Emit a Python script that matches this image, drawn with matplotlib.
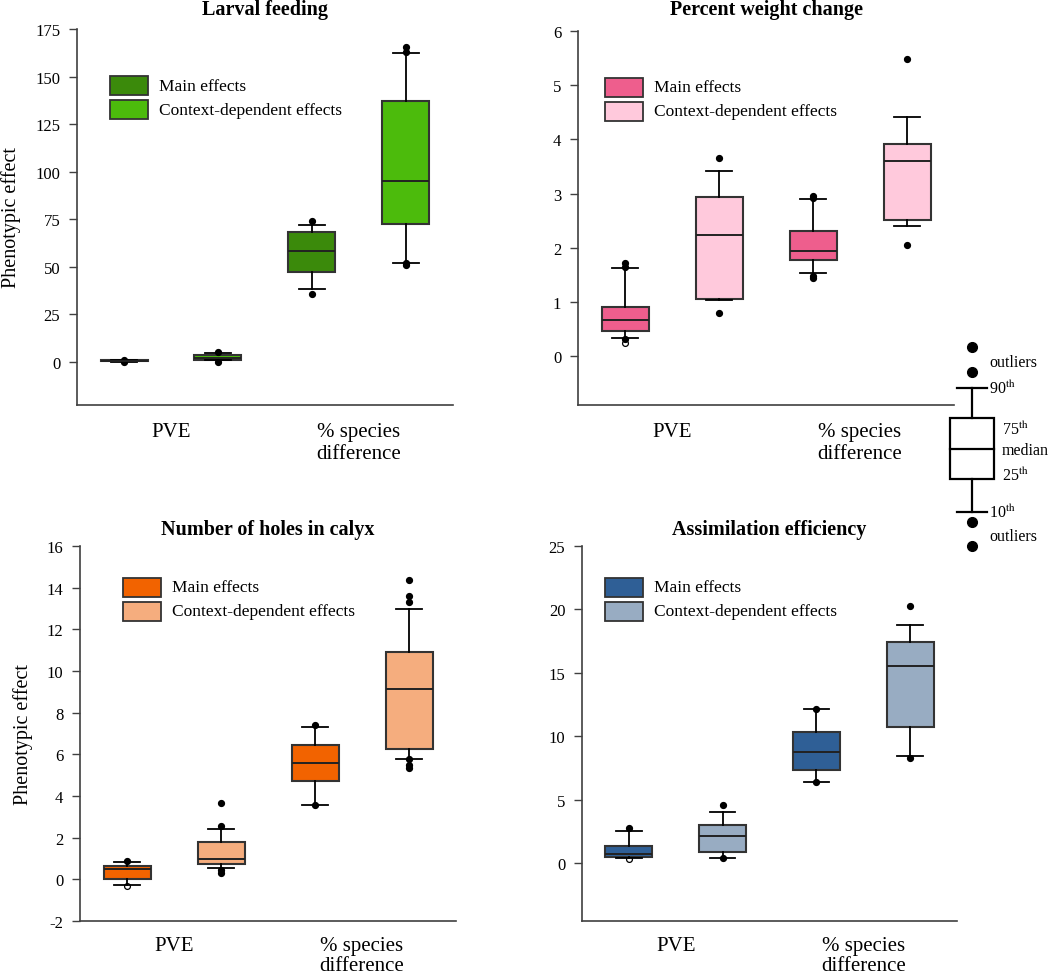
import matplotlib
matplotlib.use("Agg")
import matplotlib.pyplot as plt
from matplotlib.patches import Rectangle

plt.rcParams['font.family'] = ['Liberation Serif', 'DejaVu Serif']
plt.rcParams['axes.unicode_minus'] = False
plt.rcParams['mathtext.fontset'] = 'stix'

# ---------------- data ----------------
titles = ["Larval feeding", "Percent weight change",
          "Number of holes in calyx", "Assimilation efficiency"]
categories = ["PVE", "% species\ndifference"]
series = ["Main effects", "Context-dependent effects"]
# box order: PVE main, PVE context, %species main, %species context

larval_q1 = [0.3, 1.0, 47.3, 72.4]
larval_med = [0.5, 2.2, 58.3, 94.9]
larval_q3 = [0.8, 3.5, 68.4, 136.9]
larval_lo = [0.15, 0.8, 38.5, 52.2]
larval_hi = [1.1, 4.8, 71.8, 162.2]
larval_out = [[1.2, 0.1], [5.3, 0.1], [74.2, 35.5], [165.3, 162.9, 52.2, 50.8]]
larval_open = [[], [], [], []]

weight_q1 = [0.47, 1.05, 1.77, 2.51]
weight_med = [0.67, 2.23, 1.95, 3.60]
weight_q3 = [0.91, 2.94, 2.31, 3.92]
weight_lo = [0.34, 1.03, 1.53, 2.40]
weight_hi = [1.62, 3.42, 2.90, 4.42]
weight_out = [[1.72, 1.65, 0.31], [3.65, 0.79], [2.96, 2.92, 1.48, 1.44], [5.48, 2.05]]
weight_open = [[0.25], [], [], []]

holes_q1 = [0.0, 0.73, 4.73, 6.26]
holes_med = [0.49, 1.0, 5.6, 9.14]
holes_q3 = [0.65, 1.78, 6.43, 10.91]
holes_lo = [-0.27, 0.53, 3.55, 5.78]
holes_hi = [0.85, 2.41, 7.31, 12.98]
holes_out = [[0.88], [2.54, 3.66, 0.47, 0.30], [7.42, 3.56],
             [14.38, 13.62, 13.33, 5.80, 5.49, 5.36]]
holes_open = [[-0.34], [], [], []]

assim_q1 = [0.47, 0.89, 7.33, 10.70]
assim_med = [0.74, 2.15, 8.78, 15.51]
assim_q3 = [1.36, 3.00, 10.31, 17.43]
assim_lo = [0.37, 0.42, 6.41, 8.44]
assim_hi = [2.50, 4.00, 12.12, 18.77]
assim_out = [[2.79], [4.57, 0.42], [12.17, 6.41], [20.29, 8.26]]
assim_open = [[0.32], [], [], []]

larval_ticks = [0, 25, 50, 75, 100, 125, 150, 175]
weight_ticks = [0, 1, 2, 3, 4, 5, 6]
holes_ticks = [-2, 0, 2, 4, 6, 8, 10, 12, 14, 16]
assim_ticks = [0, 5, 10, 15, 20, 25]

main_colors = ["#3B8A0B", "#EE5E8D", "#F26300", "#2F5F96"]
ctx_colors = ["#4CBB0C", "#FFC9DC", "#F5AD7E", "#98ACC2"]

panels = [
    (larval_q1, larval_med, larval_q3, larval_lo, larval_hi, larval_out, larval_open, larval_ticks, (-22.7, 175)),
    (weight_q1, weight_med, weight_q3, weight_lo, weight_hi, weight_out, weight_open, weight_ticks, (-0.9, 6)),
    (holes_q1, holes_med, holes_q3, holes_lo, holes_hi, holes_out, holes_open, holes_ticks, (-2, 16)),
    (assim_q1, assim_med, assim_q3, assim_lo, assim_hi, assim_out, assim_open, assim_ticks, (-4.57, 25)),
]

# ---------------- layout ----------------
W, H = 1050, 978
fig = plt.figure(figsize=(W / 100, H / 100), dpi=100)

ax_px = [(77, 30, 376, 376), (578, 32, 376, 374), (80, 547, 376, 375), (582, 547, 375, 375)]
title_pads = [11, 12, 8.6, 8.6]
xlab_pads = [12, 12, 10.5, 10.5]
xlab_spacing = [1.25, 1.25, 1.12, 1.12]
leg_x = [0.088, 0.072, 0.114, 0.061]
leg_top = [0.875, 0.875, 0.915, 0.915]

positions = [1, 2, 3, 4]
spine_col = "#404040"

for i, (q1, med, q3, lo, hi, out, opn, ticks, ylim) in enumerate(panels):
    x, y, w, h = ax_px[i]
    ax = fig.add_axes([x / W, 1 - (y + h) / H, w / W, h / H])
    stats = []
    for j in range(4):
        stats.append(dict(med=med[j], q1=q1[j], q3=q3[j], whislo=lo[j],
                          whishi=hi[j], fliers=out[j]))
    bp = ax.bxp(stats, positions=positions, widths=0.5, patch_artist=True,
                capwidths=0.27,
                boxprops=dict(edgecolor="#333333", linewidth=1.5),
                medianprops=dict(color="#222222", linewidth=1.4),
                whiskerprops=dict(color="black", linewidth=1.3),
                capprops=dict(color="black", linewidth=1.3),
                flierprops=dict(marker="o", markerfacecolor="black",
                                markeredgecolor="black", markersize=4.2))
    cols = [main_colors[i], ctx_colors[i], main_colors[i], ctx_colors[i]]
    for patch, c in zip(bp["boxes"], cols):
        patch.set_facecolor(c)
    for j in range(4):
        if opn[j]:
            ax.plot([positions[j]] * len(opn[j]), opn[j], "o", markerfacecolor="white",
                    markeredgecolor="black", markersize=4.2, markeredgewidth=0.9, zorder=1)

    ax.set_xlim(0.5, 4.5)
    ax.set_ylim(*ylim)
    ax.set_yticks(ticks)
    ax.set_yticklabels([str(t) for t in ticks])
    ax.set_xticks([1.5, 3.5])
    ax.set_xticklabels(categories, fontsize=15)
    for t in ax.get_xticklabels():
        t.set_linespacing(xlab_spacing[i])
    ax.tick_params(axis="x", length=0, pad=xlab_pads[i])
    ax.tick_params(axis="y", direction="out", length=6, width=1.0, pad=6,
                   labelsize=12, color=spine_col)
    for s in ["top", "right"]:
        ax.spines[s].set_visible(False)
    for s in ["left", "bottom"]:
        ax.spines[s].set_color(spine_col)
        ax.spines[s].set_linewidth(1.2)
    ax.set_title(titles[i], fontsize=14.5, fontweight="bold", pad=title_pads[i])
    if i in (0, 2):
        ax.set_ylabel("Phenotypic effect", fontsize=14.5, labelpad=10)

    # legend (manual)
    lx = leg_x[i]
    for k, (lab, c) in enumerate(zip(series, [main_colors[i], ctx_colors[i]])):
        top = leg_top[i] - k * 0.064
        ax.add_patch(Rectangle((lx, top - 0.051), 0.101, 0.051, transform=ax.transAxes,
                               facecolor=c, edgecolor="#333333", linewidth=1.3,
                               clip_on=False))
        ax.text(lx + 0.13, top - 0.0255, lab, transform=ax.transAxes, fontsize=12.5,
                va="center", ha="left")

# ---------------- key (box explanation) ----------------
kx = fig.add_axes([0, 0, 1, 1], facecolor="none")
kx.set_xlim(0, W)
kx.set_ylim(H, 0)
kx.axis("off")
cx = 972
lw = 1.6
kx.plot([cx, cx], [389, 419], color="black", lw=lw)
kx.plot([cx, cx], [480, 513], color="black", lw=lw)
kx.plot([957, 987], [389, 389], color="black", lw=lw)
kx.plot([957, 987], [513, 513], color="black", lw=lw)
kx.add_patch(Rectangle((950, 419), 44, 61, facecolor="white", edgecolor="black", lw=lw))
kx.plot([950, 994], [449.5, 449.5], color="black", lw=lw)
kx.plot([cx, cx, cx, cx], [348, 373, 523, 547], "o", color="black", markersize=7)
fs = 11.5
kx.text(989, 363, "outliers", fontsize=fs, va="center", ha="left")
kx.text(989, 537, "outliers", fontsize=fs, va="center", ha="left")
kx.text(989, 389, r"90$^{\mathrm{th}}$", fontsize=fs, va="center", ha="left")
kx.text(989, 513, r"10$^{\mathrm{th}}$", fontsize=fs, va="center", ha="left")
kx.text(1002, 430, r"75$^{\mathrm{th}}$", fontsize=fs, va="center", ha="left")
kx.text(1002, 451, "median", fontsize=fs, va="center", ha="left")
kx.text(1002, 476, r"25$^{\mathrm{th}}$", fontsize=fs, va="center", ha="left")

fig.savefig("out.png", dpi=100)
